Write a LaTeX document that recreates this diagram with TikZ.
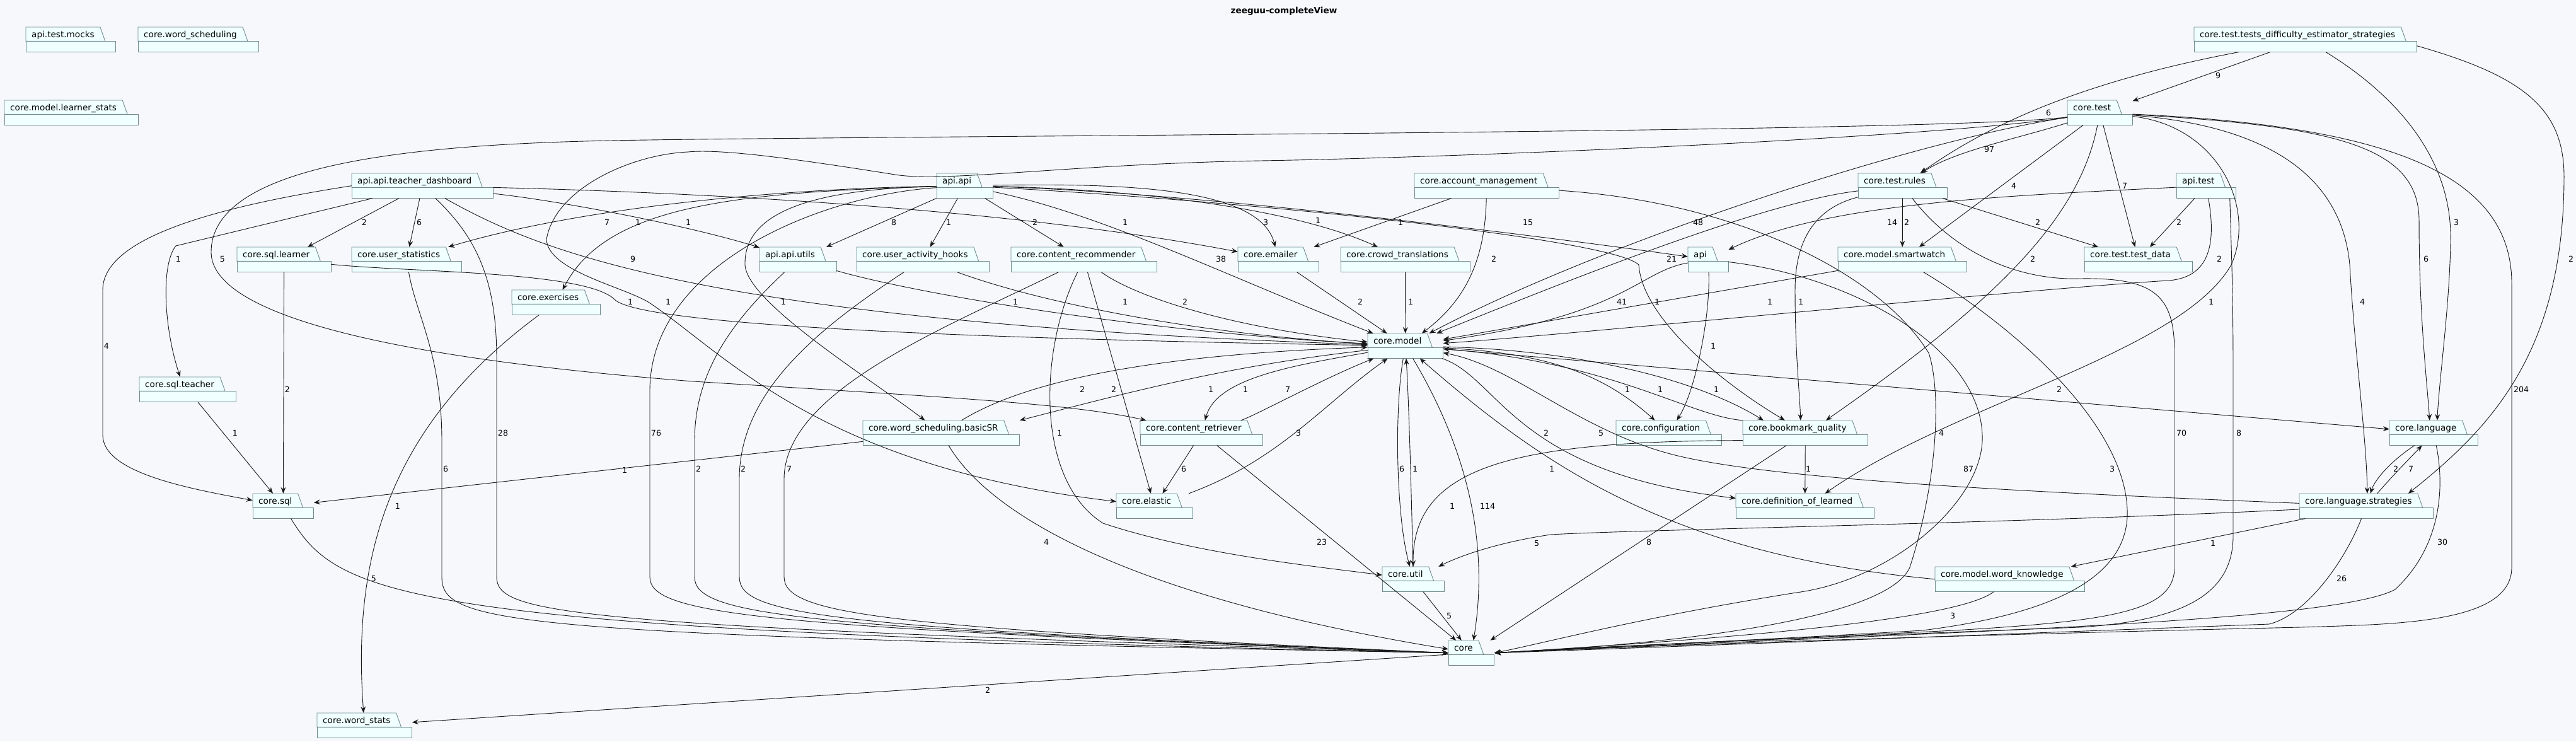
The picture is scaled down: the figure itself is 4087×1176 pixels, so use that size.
\documentclass[tikz,border=0pt]{standalone}
\usepackage{fontspec}
\setmainfont{DejaVu Sans}
\usetikzlibrary{arrows.meta,fit}
\pgfdeclarelayer{pkgs}
\pgfsetlayers{pkgs,main}
\definecolor{bgc}{HTML}{F7F8FC}
\definecolor{pkgfill}{HTML}{F0FFFF}
\definecolor{pkgdraw}{HTML}{6E8A8E}
\definecolor{depc}{HTML}{181818}
\tikzset{
  pkgtab/.style={anchor=north west, inner xsep=9pt, inner ysep=0pt, minimum height=22pt, text height=12pt, text depth=2pt, font=\fontsize{13.6}{16}\selectfont},
  pkgline/.style={fill=pkgfill, draw=pkgdraw, line width=0.9pt},
  pkgbox/.style={inner sep=0pt},
  dep/.style={draw=depc, line width=0.9pt, -{Stealth[length=10pt,width=8pt,inset=3.5pt]}},
  lbl/.style={inner sep=0pt, font=\fontsize{12.6}{14}\selectfont}
}
\newcommand\pkg[4]{%
  \node[pkgtab] (#1-t) at (#2,#3) {#4};
  \begin{pgfonlayer}{pkgs}
    \filldraw[pkgline] (#1-t.south west) -- (#1-t.north west) -- (#1-t.north east) -- ([xshift=8pt]#1-t.south east) -- cycle;
    \filldraw[pkgline] (#1-t.south west) rectangle ([xshift=25pt,yshift=-17pt]#1-t.south east);
  \end{pgfonlayer}
  \node[pkgbox, fit={(#1-t.north west)([xshift=25pt,yshift=-17pt]#1-t.south east)}] (#1) {};
}
\begin{document}
\begin{tikzpicture}[x=1pt,y=-1pt]
\useasboundingbox (0,0) rectangle (4087,1176);
\begin{pgfonlayer}{pkgs}\fill[bgc] (0,0) rectangle (4087,1176);\end{pgfonlayer}
\node[font=\bfseries\fontsize{13.6}{16}\selectfont] (title) at (2037,18) {zeeguu-completeView};

\pkg{mocks}{41}{43}{api.test.mocks}
\pkg{wsched}{219}{43}{core.word\_scheduling}
\pkg{lstats}{7}{159}{core.model.learner\_stats}
\pkg{tdiff}{3481}{43}{core.test.tests\_difficulty\_estimator\_strategies}
\pkg{ctest}{3280}{159}{core.test}
\pkg{tdash}{558}{275}{api.api.teacher\_dashboard}
\pkg{apiapi}{1486}{275}{api.api}
\pkg{accmgmt}{2244}{275}{core.account\_management}
\pkg{trules}{2948}{275}{core.test.rules}
\pkg{apitest}{3453}{275}{api.test}
\pkg{sqllearner}{376}{392}{core.sql.learner}
\pkg{ustats}{558}{392}{core.user\_statistics}
\pkg{utils}{1205}{392}{api.api.utils}
\pkg{hooks}{1359}{392}{core.user\_activity\_hooks}
\pkg{recomm}{1604}{392}{core.content\_recommender}
\pkg{emailer}{1964}{392}{core.emailer}
\pkg{crowd}{2127}{392}{core.crowd\_translations}
\pkg{api}{2678}{392}{api}
\pkg{smartwatch}{2916}{392}{core.model.smartwatch}
\pkg{testdata}{3307}{392}{core.test.test\_data}
\pkg{exercises}{812}{460}{core.exercises}
\pkg{model}{2170}{529}{core.model}
\pkg{sqlteacher}{221}{598}{core.sql.teacher}
\pkg{basicsr}{1369}{667}{core.word\_scheduling.basicSR}
\pkg{retriever}{1809}{667}{core.content\_retriever}
\pkg{config}{2564}{667}{core.configuration}
\pkg{bqual}{2765}{667}{core.bookmark\_quality}
\pkg{language}{3791}{667}{core.language}
\pkg{sql}{401}{783}{core.sql}
\pkg{elastic}{1771}{783}{core.elastic}
\pkg{deflearned}{2754}{783}{core.definition\_of\_learned}
\pkg{lstrat}{3648}{783}{core.language.strategies}
\pkg{util}{2193}{899}{core.util}
\pkg{wknow}{3070}{899}{core.model.word\_knowledge}
\pkg{core}{2298}{1016}{core}
\pkg{wstats}{503}{1131}{core.word\_stats}

\draw[dep] (tdash) -- (sqllearner) node[lbl] (l1) at (578,353) {2};
\draw[dep] (tdash) -- (ustats) node[lbl] (l2) at (665,353) {6};
\draw[dep] (tdash) .. controls (900,320) and (1100,360) .. (utils) node[lbl] (l3) at (1092,353) {1};
\draw[dep] (tdash) .. controls (1100,305) and (1600,330) .. (emailer) node[lbl] (l4) at (1785,353) {1};
\draw[dep] ([xshift=33]tdash.south west) -- (279,390) .. controls (255,420) and (260,520) .. ([xshift=65]sqlteacher.north west) node[lbl] (l5) at (283,411) {1};
\draw[dep] (tdash.west) .. controls (330,330) and (163,380) .. (163,460) -- (163,690) .. controls (163,750) and (300,775) .. (sql) node[lbl] (l6) at (169,549) {4};
\draw[dep] (tdash) .. controls (850,395) and (1100,510) .. (model) node[lbl] (l7) at (1004,411) {9};
\draw[dep] ([xshift=133]tdash.south west) .. controls (760,380) and (788,450) .. (788,570) -- (788,915) .. controls (788,975) and (900,993) .. (core.west) node[lbl] (l8) at (798,687) {28};

\draw[dep] (apiapi) .. controls (1200,300) and (900,335) .. (ustats) node[lbl] (l9) at (963,353) {7};
\draw[dep] (apiapi) .. controls (1150,305) and (960,330) .. (exercises) node[lbl] (l10) at (1012,353) {1};
\draw[dep] (apiapi) -- (utils) node[lbl] (l11) at (1418,353) {8};
\draw[dep] (apiapi) -- (hooks) node[lbl] (l12) at (1505,353) {1};
\draw[dep] (apiapi) -- (recomm) node[lbl] (l13) at (1642,353) {2};
\draw[dep] (apiapi) .. controls (1800,290) and (2000,300) .. (emailer) node[lbl] (l14) at (2008,353) {3};
\draw[dep] (apiapi) .. controls (1800,300) and (2050,330) .. (crowd) node[lbl] (l15) at (2091,350) {1};
\draw[dep] (apiapi) .. controls (1900,305) and (2450,375) .. (api) node[lbl] (l16) at (2424,353) {15};
\draw[dep] (apiapi) .. controls (2000,320) and (2560,380) .. (2600,420) .. controls (2605,500) and (2720,600) .. ([xshift=67]bqual.north west) node[lbl] (l17) at (2629,479) {1};
\draw[dep] (apiapi) .. controls (1280,300) and (1180,340) .. (1182,420) .. controls (1185,480) and (1380,600) .. (basicsr) node[lbl] (l18) at (1243,479) {1};
\draw[dep] (apiapi) .. controls (1750,340) and (1950,440) .. (model) node[lbl] (l19) at (1937,411) {38};
\draw[dep] (apiapi) .. controls (1300,310) and (1031,420) .. (1031,620) -- (1031,915) .. controls (1031,975) and (1200,995) .. (core.west) node[lbl] (l20) at (1041,687) {76};

\draw[dep] (accmgmt) -- (emailer) node[lbl] (l21) at (2222,353) {1};
\draw[dep] (accmgmt) .. controls (2356,420) and (2320,480) .. (model) node[lbl] (l22) at (2370,411) {2};
\draw[dep] (accmgmt) .. controls (2750,320) and (2980,430) .. (3060,560) .. controls (3080,620) and (3075,760) .. (3030,900) .. controls (2990,990) and (2600,1025) .. (core.east) node[lbl] (l23) at (3080,687) {4};

\draw[dep] (ctest) .. controls (3200,220) and (3100,240) .. (trules) node[lbl] (l24) at (3156,237) {97};
\draw[dep] (ctest) -- (smartwatch) node[lbl] (l25) at (3195,295) {4};
\draw[dep] (ctest) -- (testdata) node[lbl] (l26) at (3371,295) {7};
\draw[dep] (ctest) .. controls (3050,220) and (2550,380) .. (model) node[lbl] (l27) at (2694,353) {48};
\draw[dep] (ctest) .. controls (3100,210) and (1500,215) .. (1030,222) .. controls (700,226) and (335,250) .. (335,400) .. controls (335,480) and (520,560) .. (1100,605) .. controls (1500,630) and (1700,640) .. (retriever) node[lbl] (l28) at (353,411) {5};
\draw[dep] (ctest) .. controls (3050,220) and (2300,250) .. (2000,255) .. controls (1700,260) and (1500,290) .. (1420,277) .. controls (1300,258) and (1150,235) .. (1092,241) .. controls (1000,245) and (880,300) .. (867,380) .. controls (870,430) and (990,455) .. (1030,480) .. controls (1150,560) and (1300,740) .. (elastic) node[lbl] (l29) at (1060,479) {1};
\draw[dep] (ctest) .. controls (3300,340) and (3180,470) .. ([xshift=-67]bqual.north east) node[lbl] (l30) at (3225,411) {2};
\draw[dep] (ctest) .. controls (3520,200) and (3580,330) .. (3540,420) .. controls (3460,560) and (3100,640) .. ([xshift=-78]deflearned.north east) node[lbl] (l31) at (3508,479) {1};
\draw[dep] (ctest) .. controls (3600,200) and (3715,280) .. (3728,420) .. controls (3735,550) and (3755,700) .. ([xshift=108]lstrat.north west) node[lbl] (l32) at (3748,479) {4};
\draw[dep] (ctest) .. controls (3700,200) and (3838,230) .. (3838,350) .. controls (3838,500) and (3850,600) .. ([xshift=64]language.north west) node[lbl] (l33) at (3849,411) {6};
\draw[dep] (ctest) .. controls (3800,200) and (3985,280) .. (3985,450) -- (3985,900) .. controls (3985,990) and (3800,990) .. (3650,995) .. controls (3000,1010) and (2600,1025) .. (core.east) node[lbl] (l34) at (4000,618) {204};

\draw[dep] (tdiff) -- (ctest) node[lbl] (l35) at (3519,120) {9};
\draw[dep] (tdiff) .. controls (3300,130) and (3153,199) .. (trules) node[lbl] (l36) at (3250,179) {6};
\draw[dep] (tdiff) .. controls (3800,150) and (3890,250) .. (3888,380) .. controls (3887,480) and (3870,600) .. ([xshift=76]language.north west) node[lbl] (l37) at (3897,353) {3};
\draw[dep] ([yshift=-10pt]tdiff.east) .. controls (4000,120) and (4068,170) .. (4068,280) .. controls (4068,560) and (3950,680) .. ([xshift=-40]lstrat.north east) node[lbl] (l38) at (4079,411) {2};

\draw[dep] (trules) -- (smartwatch) node[lbl] (l39) at (3025,353) {2};
\draw[dep] (trules) -- (testdata) node[lbl] (l40) at (3233,353) {2};
\draw[dep] (trules) .. controls (2880,330) and (2848,380) .. (2848,460) .. controls (2848,560) and (2855,620) .. ([xshift=92]bqual.north west) node[lbl] (l41) at (2857,479) {1};
\draw[dep] (trules) .. controls (2800,320) and (2500,440) .. (model) node[lbl] (l42) at (2652,411) {21};
\draw[dep] (trules) .. controls (3100,400) and (3200,445) .. (3300,442) .. controls (3420,440) and (3450,470) .. (3450,560) -- (3450,900) .. controls (3450,970) and (3350,985) .. (3100,1000) .. controls (2800,1015) and (2500,1028) .. (core.east) node[lbl] (l43) at (3461,687) {70};

\draw[dep] (apitest) .. controls (3200,310) and (2900,320) .. (api) node[lbl] (l44) at (3002,353) {14};
\draw[dep] (apitest) -- (testdata) node[lbl] (l45) at (3457,353) {2};
\draw[dep] (apitest) .. controls (3515,380) and (3510,440) .. (3440,445) .. controls (3200,460) and (2500,530) .. (model) node[lbl] (l46) at (3521,411) {2};
\draw[dep] ([xshift=-10]apitest.south east) .. controls (3540,400) and (3543,450) .. (3543,600) -- (3543,850) .. controls (3543,950) and (3450,985) .. (3300,995) .. controls (2900,1010) and (2550,1025) .. (core.east) node[lbl] (l47) at (3552,687) {8};

\draw[dep] (smartwatch) -- (model) node[lbl] (l48) at (2808,479) {1};
\draw[dep] (smartwatch) .. controls (3200,520) and (3380,680) .. (3375,820) .. controls (3370,920) and (3250,975) .. (3050,1000) .. controls (2800,1015) and (2500,1028) .. (core.east) node[lbl] (l49) at (3351,744) {3};

\draw[dep] (api) .. controls (2600,430) and (2580,500) .. (model) node[lbl] (l50) at (2573,479) {41};
\draw[dep] (api) .. controls (2714,500) and (2690,620) .. (config) node[lbl] (l51) at (2718,549) {1};
\draw[dep] (api) .. controls (2950,440) and (3150,560) .. (3145,700) .. controls (3140,800) and (3000,920) .. (2850,940) .. controls (2600,980) and (2450,1020) .. (core.east) node[lbl] (l52) at (3123,744) {87};

\draw[dep] (model) .. controls (2212,650) and (2215,820) .. (util) node[lbl] (l53) at (2224,744) {6};
\draw[dep] (util) .. controls (2240,820) and (2236,650) .. (model) node[lbl] (l54) at (2245,744) {1};
\draw[dep] (model) .. controls (2320,700) and (2365,850) .. (core) node[lbl] (l55) at (2360,803) {114};
\draw[dep] (model) .. controls (2450,560) and (2540,590) .. (config) node[lbl] (l56) at (2582,618) {1};
\draw[dep] (model) .. controls (2500,555) and (2690,600) .. ([xshift=33]bqual.north west) node[lbl] (l57) at (2723,618) {1};
\draw[dep] (bqual.north west) .. controls (2680,660) and (2560,575) .. (model) node[lbl] (l58) at (2634,618) {1};
\draw[dep] (model) .. controls (2380,600) and (2400,750) .. (deflearned) node[lbl] (l59) at (2453,687) {2};
\draw[dep] (model) -- (language) node[lbl] (l60) at (3267,618) {2};
\draw[dep] (model) .. controls (1950,580) and (1800,620) .. (basicsr.north east) node[lbl] (l61) at (1976,618) {1};
\draw[dep] (model) .. controls (2050,580) and (1930,600) .. (retriever) node[lbl] (l62) at (1921,618) {1};

\draw[dep] (bqual) -- (deflearned) node[lbl] (l63) at (2869,744) {1};
\draw[dep] ([yshift=8]bqual.south west) .. controls (2400,700) and (2240,740) .. (util) node[lbl] (l64) at (2304,803) {1};
\draw[dep] (bqual) -- (core) node[lbl] (l65) at (2616,860) {8};

\draw[dep] (hooks) .. controls (1650,480) and (1900,530) .. (model) node[lbl] (l66) at (1785,479) {1};
\draw[dep] (hooks) .. controls (1300,520) and (1173,620) .. (1173,760) -- (1173,915) .. controls (1173,975) and (1300,995) .. (core.west) node[lbl] (l67) at (1179,744) {2};
\draw[dep] (utils) .. controls (1450,465) and (1800,525) .. (model) node[lbl] (l68) at (1611,479) {1};
\draw[dep] (utils) .. controls (1150,520) and (1102,600) .. (1102,700) -- (1102,915) .. controls (1102,975) and (1250,995) .. (core.west) node[lbl] (l69) at (1108,744) {2};
\draw[dep] (recomm) .. controls (1800,470) and (1950,520) .. (model) node[lbl] (l70) at (1880,479) {2};
\draw[dep] (recomm) -- (elastic) node[lbl] (l71) at (1767,618) {2};
\draw[dep] (recomm) .. controls (1650,550) and (1640,760) .. (1750,830) .. controls (1900,880) and (2100,900) .. (util) node[lbl] (l72) at (1681,687) {1};
\draw[dep] (recomm) .. controls (1500,520) and (1244,620) .. (1244,760) -- (1244,915) .. controls (1244,975) and (1400,995) .. (core.west) node[lbl] (l73) at (1252,744) {7};

\draw[dep] (emailer) -- (model) node[lbl] (l74) at (2158,479) {2};
\draw[dep] (crowd) -- (model) node[lbl] (l75) at (2238,479) {1};

\draw[dep] (basicsr) .. controls (1650,590) and (1900,560) .. (model) node[lbl] (l76) at (1717,618) {2};
\draw[dep] (basicsr) -- (sql) node[lbl] (l77) at (991,746) {1};
\draw[dep] (basicsr) .. controls (1560,800) and (1750,940) .. (core) node[lbl] (l78) at (1660,860) {4};
\draw[dep] (retriever) .. controls (1990,660) and (2100,600) .. (model) node[lbl] (l79) at (2043,618) {7};
\draw[dep] (retriever) -- (elastic) node[lbl] (l80) at (1878,744) {6};
\draw[dep] (retriever) -- (core) node[lbl] (l81) at (2097,860) {23};
\draw[dep] (elastic) .. controls (2030,730) and (2100,640) .. (model) node[lbl] (l82) at (2060,687) {3};

\draw[dep] (util) -- (core) node[lbl] (l83) at (2299,977) {5};
\draw[dep] (wknow.west) .. controls (2650,880) and (2450,740) .. (model) node[lbl] (l84) at (2462,744) {1};
\draw[dep] (wknow) .. controls (3110,980) and (2800,1010) .. (core.east) node[lbl] (l85) at (3098,977) {3};
\draw[dep] (lstrat) .. controls (3200,780) and (2800,760) .. (2650,720) .. controls (2500,680) and (2400,580) .. (model) node[lbl] (l86) at (2540,687) {5};
\draw[dep] (lstrat) .. controls (3200,830) and (2600,840) .. (2460,848) .. controls (2380,860) and (2320,880) .. (util) node[lbl] (l87) at (2438,862) {5};
\draw[dep] (lstrat) -- (wknow) node[lbl] (l88) at (3511,862) {1};
\draw[dep] (lstrat) .. controls (3720,890) and (3660,975) .. (3600,990) .. controls (3200,1005) and (2600,1028) .. (core.east) node[lbl] (l89) at (3715,918) {26};
\draw[dep] (lstrat) .. controls (3800,750) and (3830,720) .. (language) node[lbl] (l90) at (3825,744) {7};
\draw[dep] (language) .. controls (3795,730) and (3768,760) .. (lstrat) node[lbl] (l91) at (3801,744) {2};
\draw[dep] (language) .. controls (3880,780) and (3870,870) .. (3800,935) .. controls (3700,990) and (3000,1005) .. (core.east) node[lbl] (l92) at (3875,860) {30};

\draw[dep] (core) -- (wstats) node[lbl] (l93) at (1567,1095) {2};
\draw[dep] (sql) .. controls (540,950) and (640,1000) .. (core.west) node[lbl] (l94) at (593,918) {5};
\draw[dep] (exercises) .. controls (605,684) and (560,900) .. (wstats) node[lbl] (l95) at (631,803) {1};
\draw[dep] (sqlteacher) -- (sql) node[lbl] (l96) at (373,687) {1};
\draw[dep] (sqllearner) -- (sql) node[lbl] (l97) at (456,618) {2};
\draw[dep] (sqllearner) .. controls (650,432) and (930,430) .. (975,475) .. controls (1010,510) and (1400,535) .. (model) node[lbl] (l98) at (1000,479) {1};
\draw[dep] (ustats) .. controls (660,500) and (701,560) .. (701,700) -- (701,915) .. controls (701,990) and (800,1008) .. (core.west) node[lbl] (l99) at (707,744) {6};
\end{tikzpicture}
\end{document}
